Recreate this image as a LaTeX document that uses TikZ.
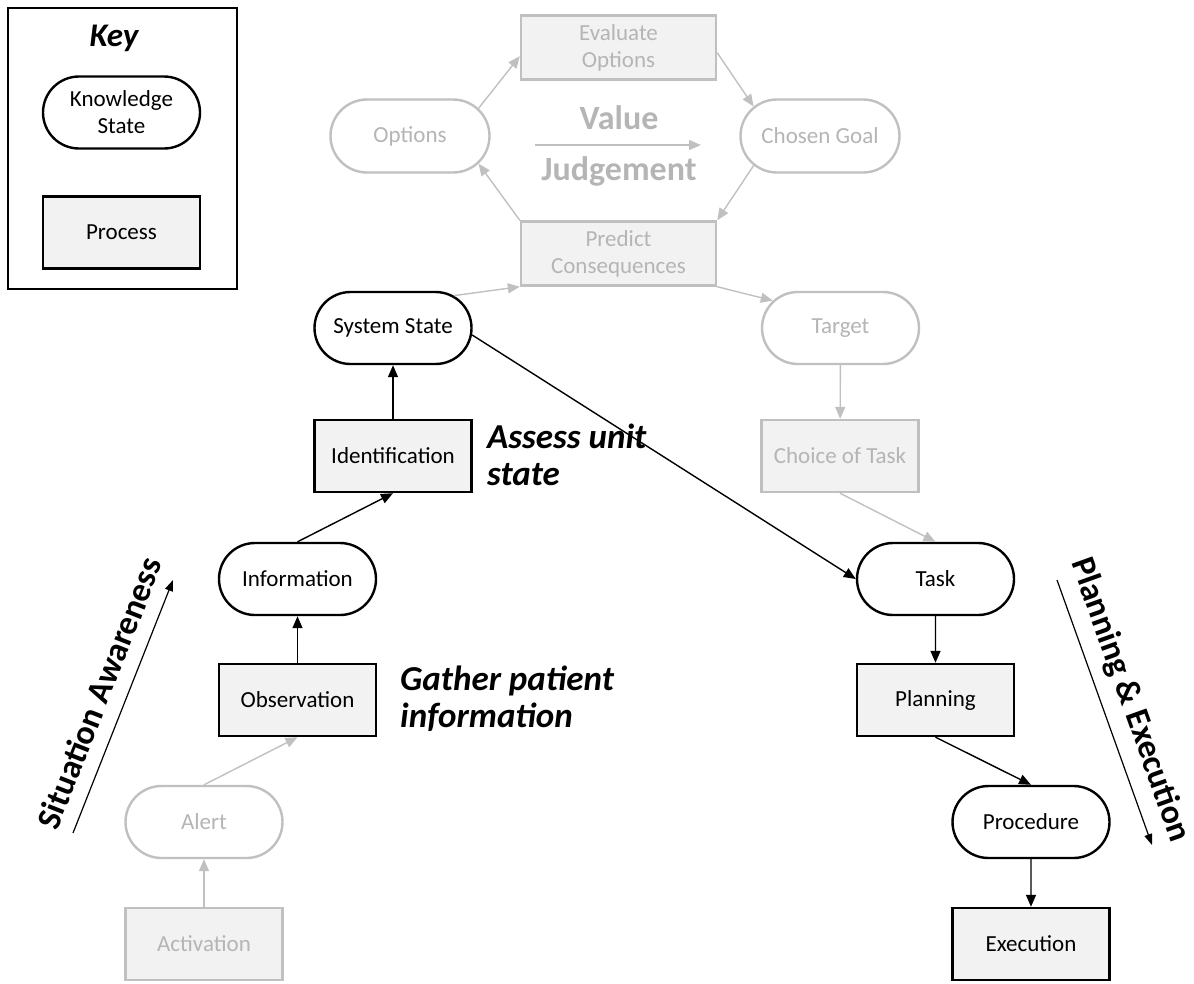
\documentclass[tikz,border=0pt]{standalone}
\usepackage{fontspec}
\setmainfont{Carlito}
\usetikzlibrary{arrows.meta,shapes.misc}
\definecolor{greyline}{HTML}{C0C0C0}
\definecolor{greytext}{HTML}{B5B5B5}
\definecolor{procfill}{HTML}{F2F2F2}
\begin{document}
\begin{tikzpicture}[x=1pt,y=-1pt,
  nodefont/.style={font=\fontsize{23}{27}\selectfont},
  state/.style={rounded rectangle, draw=black, line width=2.4pt, fill=white,
    minimum width=157pt, minimum height=72pt, inner sep=0pt, align=center, nodefont},
  proc/.style={rectangle, draw=black, line width=2.4pt, fill=procfill,
    minimum width=157pt, minimum height=72pt, inner sep=0pt, align=center, nodefont},
  wide/.style={minimum width=195pt, minimum height=64pt},
  faded/.style={draw=greyline, text=greytext},
  link/.style={-{Triangle[length=12pt,width=10pt]}, line width=1.4pt, draw=black},
  glink/.style={link, draw=greyline},
  bigitalic/.style={font=\fontsize{35}{37}\selectfont\bfseries\itshape, align=left, inner sep=0pt},
  sidelabel/.style={font=\fontsize{34}{36}\selectfont\bfseries, inner sep=0pt},
]
\useasboundingbox (0,0) rectangle (1194,983);

% key
\node[draw=black, line width=1.6pt, minimum width=229pt, minimum height=281pt, inner sep=0pt] (keybox) at (122.5,148.5) {};
\node[font=\fontsize{33}{36}\selectfont\bfseries\itshape, inner sep=0pt] (keytitle) at (114,38) {Key};
\node[state] (keystate) at (121.5,112.5) {Knowledge\\State};
\node[proc] (keyproc) at (121.5,232.5) {Process};

% value judgement loop
\node[state, faded, minimum width=159pt, minimum height=73pt] (options) at (410,136) {Options};
\node[proc, faded, wide] (evaluate) at (618.5,47.5) {Evaluate\\Options};
\node[state, faded, minimum width=159pt, minimum height=73pt] (goal) at (820,136) {Chosen Goal};
\node[proc, faded, wide] (predict) at (618.5,253.5) {Predict\\Consequences};
\node[font=\fontsize{34}{36}\selectfont\bfseries, text=greytext, inner sep=0pt] (value) at (619,118) {Value};
\node[font=\fontsize{34}{36}\selectfont\bfseries, text=greytext, inner sep=0pt] (judge) at (619,171) {Judgement};
\coordinate (vjfrom) at (535,145);
\coordinate (vjto) at (701,145);

% situation awareness side
\node[state] (system) at (393,328) {System State};
\node[proc] (ident) at (393,456) {Identification};
\node[state] (info) at (297.5,579) {Information};
\node[proc] (obs) at (297.5,700) {Observation};
\node[state, faded] (alert) at (204,822) {Alert};
\node[proc, faded] (activation) at (204,944) {Activation};

% planning side
\node[state, faded] (target) at (840.5,328) {Target};
\node[proc, faded] (choice) at (840,456) {Choice of Task};
\node[state] (task) at (935.5,579) {Task};
\node[proc] (planning) at (935.5,700) {Planning};
\node[state] (procedure) at (1031,822) {Procedure};
\node[proc] (execution) at (1031,944) {Execution};

% phase labels
\node[bigitalic, anchor=west] (assess) at (487,455) {Assess unit\\state};
\node[bigitalic, anchor=west] (gather) at (400,699) {Gather patient\\information};
\node[sidelabel, rotate=68.5] (sa) at (99,693) {Situation Awareness};
\node[sidelabel, rotate=-70.3] (pe) at (1130,700) {Planning \& Execution};
\coordinate (saA) at (73,833);
\coordinate (saB) at (173,580);
\coordinate (peA) at (1057,580);
\coordinate (peB) at (1152,845);

% connectors
\draw[glink] (activation) -- (alert);
\draw[glink] (alert.north) -- (obs.south);
\draw[link] (obs) -- (info);
\draw[link] (info.north) -- (ident.south);
\draw[link] (ident) -- (system);
\draw[glink] (system.28) -- (predict.south west);
\draw[glink] (predict.north west) -- (options.-22);
\draw[glink] (options.22) -- (evaluate.185);
\draw[glink] (evaluate.-3) -- (goal.156);
\draw[glink] (goal.204) -- (predict.north east);
\draw[glink] (predict.south east) -- (target.158);
\draw[glink] (target) -- (choice);
\draw[glink] (choice.south) -- (task.north);
\draw[link] (system.-5) -- (task.west);
\draw[link] (task) -- (planning);
\draw[link] (planning.south) -- (procedure.north);
\draw[link] (procedure) -- (execution);
\draw[glink, line width=1.6pt] (vjfrom) -- (vjto);
\draw[link, line width=1.2pt, -{Triangle[length=11pt,width=8pt]}] (saA) -- (saB);
\draw[link, line width=1.2pt, -{Triangle[length=11pt,width=8pt]}] (peA) -- (peB);
\end{tikzpicture}
\end{document}
